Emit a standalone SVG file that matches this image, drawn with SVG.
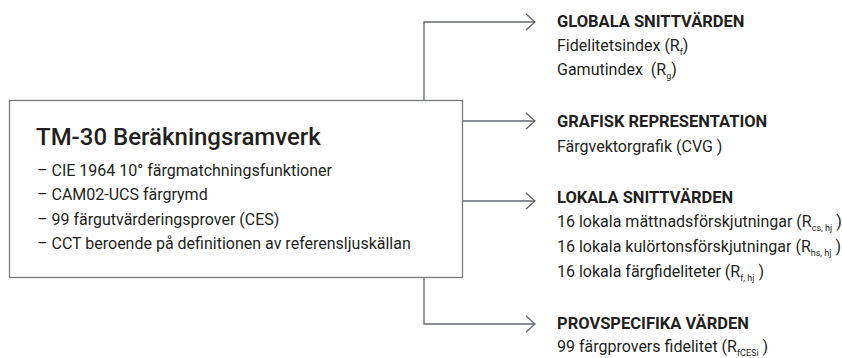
<svg xmlns="http://www.w3.org/2000/svg" width="842" height="358" viewBox="0 0 842 358">
<style>
text{font-family:Roboto,"Liberation Sans",sans-serif;fill:#231f20}
.t{font-size:24px;font-weight:500}
.b{font-size:16px}
.h{font-size:16.5px;font-weight:bold}
.s{font-size:9px}
.ln{fill:none;stroke:#63676c;stroke-width:1.3}
</style>
<defs>
<marker id="ar" markerUnits="userSpaceOnUse" markerWidth="20" markerHeight="20" viewBox="-12 -10 14 20" refX="0" refY="0" orient="auto">
<path d="M-9,-8 L0,0 L-9,8" fill="none" stroke="#63676c" stroke-width="1.3"/>
</marker>
</defs>
<rect width="842" height="358" fill="#fff"/>
<g id="connectors">
<path class="ln" d="M424,100.5 V22 H535" marker-end="url(#ar)"/>
<path class="ln" d="M462.5,121 H535" marker-end="url(#ar)"/>
<path class="ln" d="M462.5,201 H535" marker-end="url(#ar)"/>
<path class="ln" d="M424,277.5 V324 H535" marker-end="url(#ar)"/>
</g>
<g id="tm30">
<rect x="9.5" y="100.5" width="453" height="177" fill="none" stroke="#777b80" stroke-width="1.3"/>
<text class="t" x="36" y="145">TM-30 Beräkningsramverk</text>
<text class="b" x="37" y="176">– CIE 1964 10° färgmatchningsfunktioner</text>
<text class="b" x="37" y="200">– CAM02-UCS färgrymd</text>
<text class="b" x="37" y="225">– 99 färgutvärderingsprover (CES)</text>
<text class="b" x="37" y="249">– CCT beroende på definitionen av referensljuskällan</text>
</g>
<g id="globala">
<text class="h" x="557" y="27">GLOBALA SNITTVÄRDEN</text>
<text class="b" x="557" y="51">Fidelitetsindex (R<tspan class="s" dy="4">f</tspan><tspan dy="-4">)</tspan></text>
<text class="b" x="557" y="75">Gamutindex&#160; (R<tspan class="s" dy="4">g</tspan><tspan dy="-4">)</tspan></text>
</g>
<g id="grafisk">
<text class="h" x="557" y="127">GRAFISK REPRESENTATION</text>
<text class="b" x="557" y="152">Färgvektorgrafik (CVG )</text>
</g>
<g id="lokala">
<text class="h" x="557" y="203">LOKALA SNITTVÄRDEN</text>
<text class="b" x="557" y="227">16 lokala mättnadsförskjutningar (R<tspan class="s" dy="4">cs, hj</tspan><tspan dy="-4"> )</tspan></text>
<text class="b" x="557" y="252">16 lokala kulörtonsförskjutningar (R<tspan class="s" dy="4">hs, hj</tspan><tspan dy="-4"> )</tspan></text>
<text class="b" x="557" y="277">16 lokala färgfideliteter (R<tspan class="s" dy="4">f, hj</tspan><tspan dy="-4"> )</tspan></text>
</g>
<g id="provspecifika">
<text class="h" x="557" y="329">PROVSPECIFIKA VÄRDEN</text>
<text class="b" x="557" y="352">99 färgprovers fidelitet (R<tspan class="s" dy="4">fCESi</tspan><tspan dy="-4"> )</tspan></text>
</g>
</svg>
